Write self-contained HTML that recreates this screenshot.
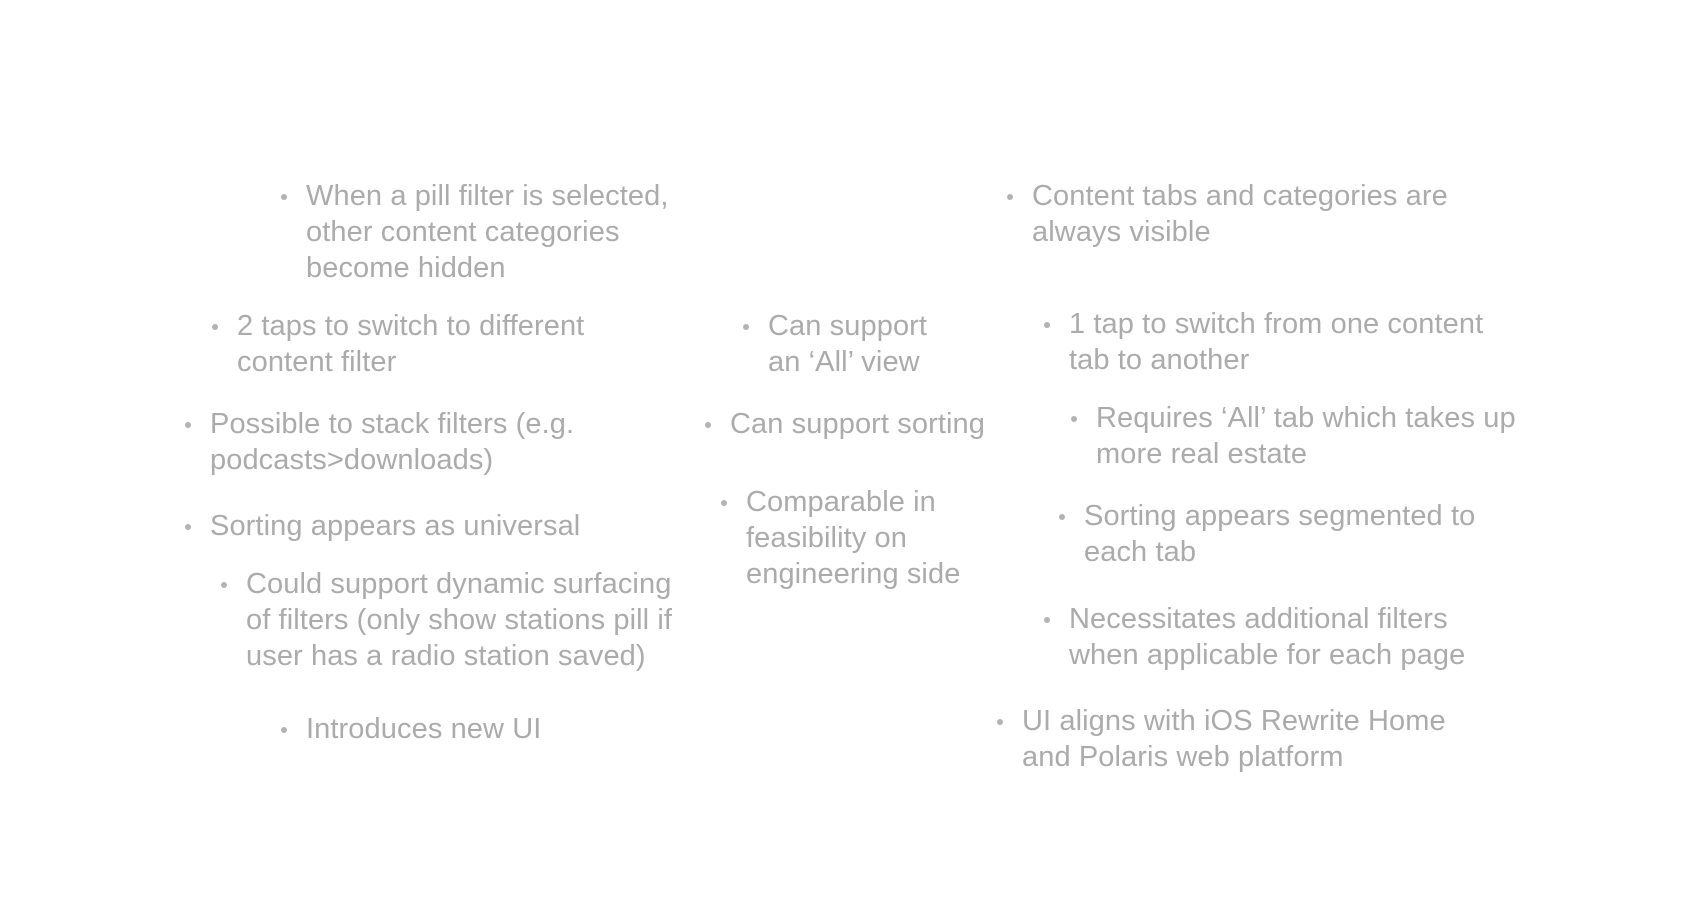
<!DOCTYPE html>
<html><head><meta charset="utf-8"><style>
html,body{margin:0;padding:0;background:#fff;}
body{width:1702px;height:919px;position:relative;overflow:hidden;font-family:"Liberation Sans",sans-serif;}
.i{position:absolute;font-size:29px;line-height:36px;color:#ababab;white-space:nowrap;letter-spacing:0.1px;}
.i::before{content:"";position:absolute;left:-25px;top:16px;width:6px;height:6px;border-radius:50%;background:#b3b3b3;}
</style></head><body>
<div class="i" style="left:306px;top:178px">When a pill filter is selected,<br>other content categories<br>become hidden</div>
<div class="i" style="left:237px;top:308px">2 taps to switch to different<br>content filter</div>
<div class="i" style="left:210px;top:406px">Possible to stack filters (e.g.<br>podcasts&gt;downloads)</div>
<div class="i" style="left:210px;top:508px">Sorting appears as universal</div>
<div class="i" style="left:246px;top:566px">Could support dynamic surfacing<br>of filters (only show stations pill if<br>user has a radio station saved)</div>
<div class="i" style="left:306px;top:711px">Introduces new UI</div>
<div class="i" style="left:768px;top:308px">Can support<br>an ‘All’ view</div>
<div class="i" style="left:730px;top:406px">Can support sorting</div>
<div class="i" style="left:746px;top:484px">Comparable in<br>feasibility on<br>engineering side</div>
<div class="i" style="left:1032px;top:178px">Content tabs and categories are<br>always visible</div>
<div class="i" style="left:1069px;top:306px">1 tap to switch from one content<br>tab to another</div>
<div class="i" style="left:1096px;top:400px">Requires ‘All’ tab which takes up<br>more real estate</div>
<div class="i" style="left:1084px;top:498px">Sorting appears segmented to<br>each tab</div>
<div class="i" style="left:1069px;top:601px">Necessitates additional filters<br>when applicable for each page</div>
<div class="i" style="left:1022px;top:703px">UI aligns with iOS Rewrite Home<br>and Polaris web platform</div>
</body></html>
